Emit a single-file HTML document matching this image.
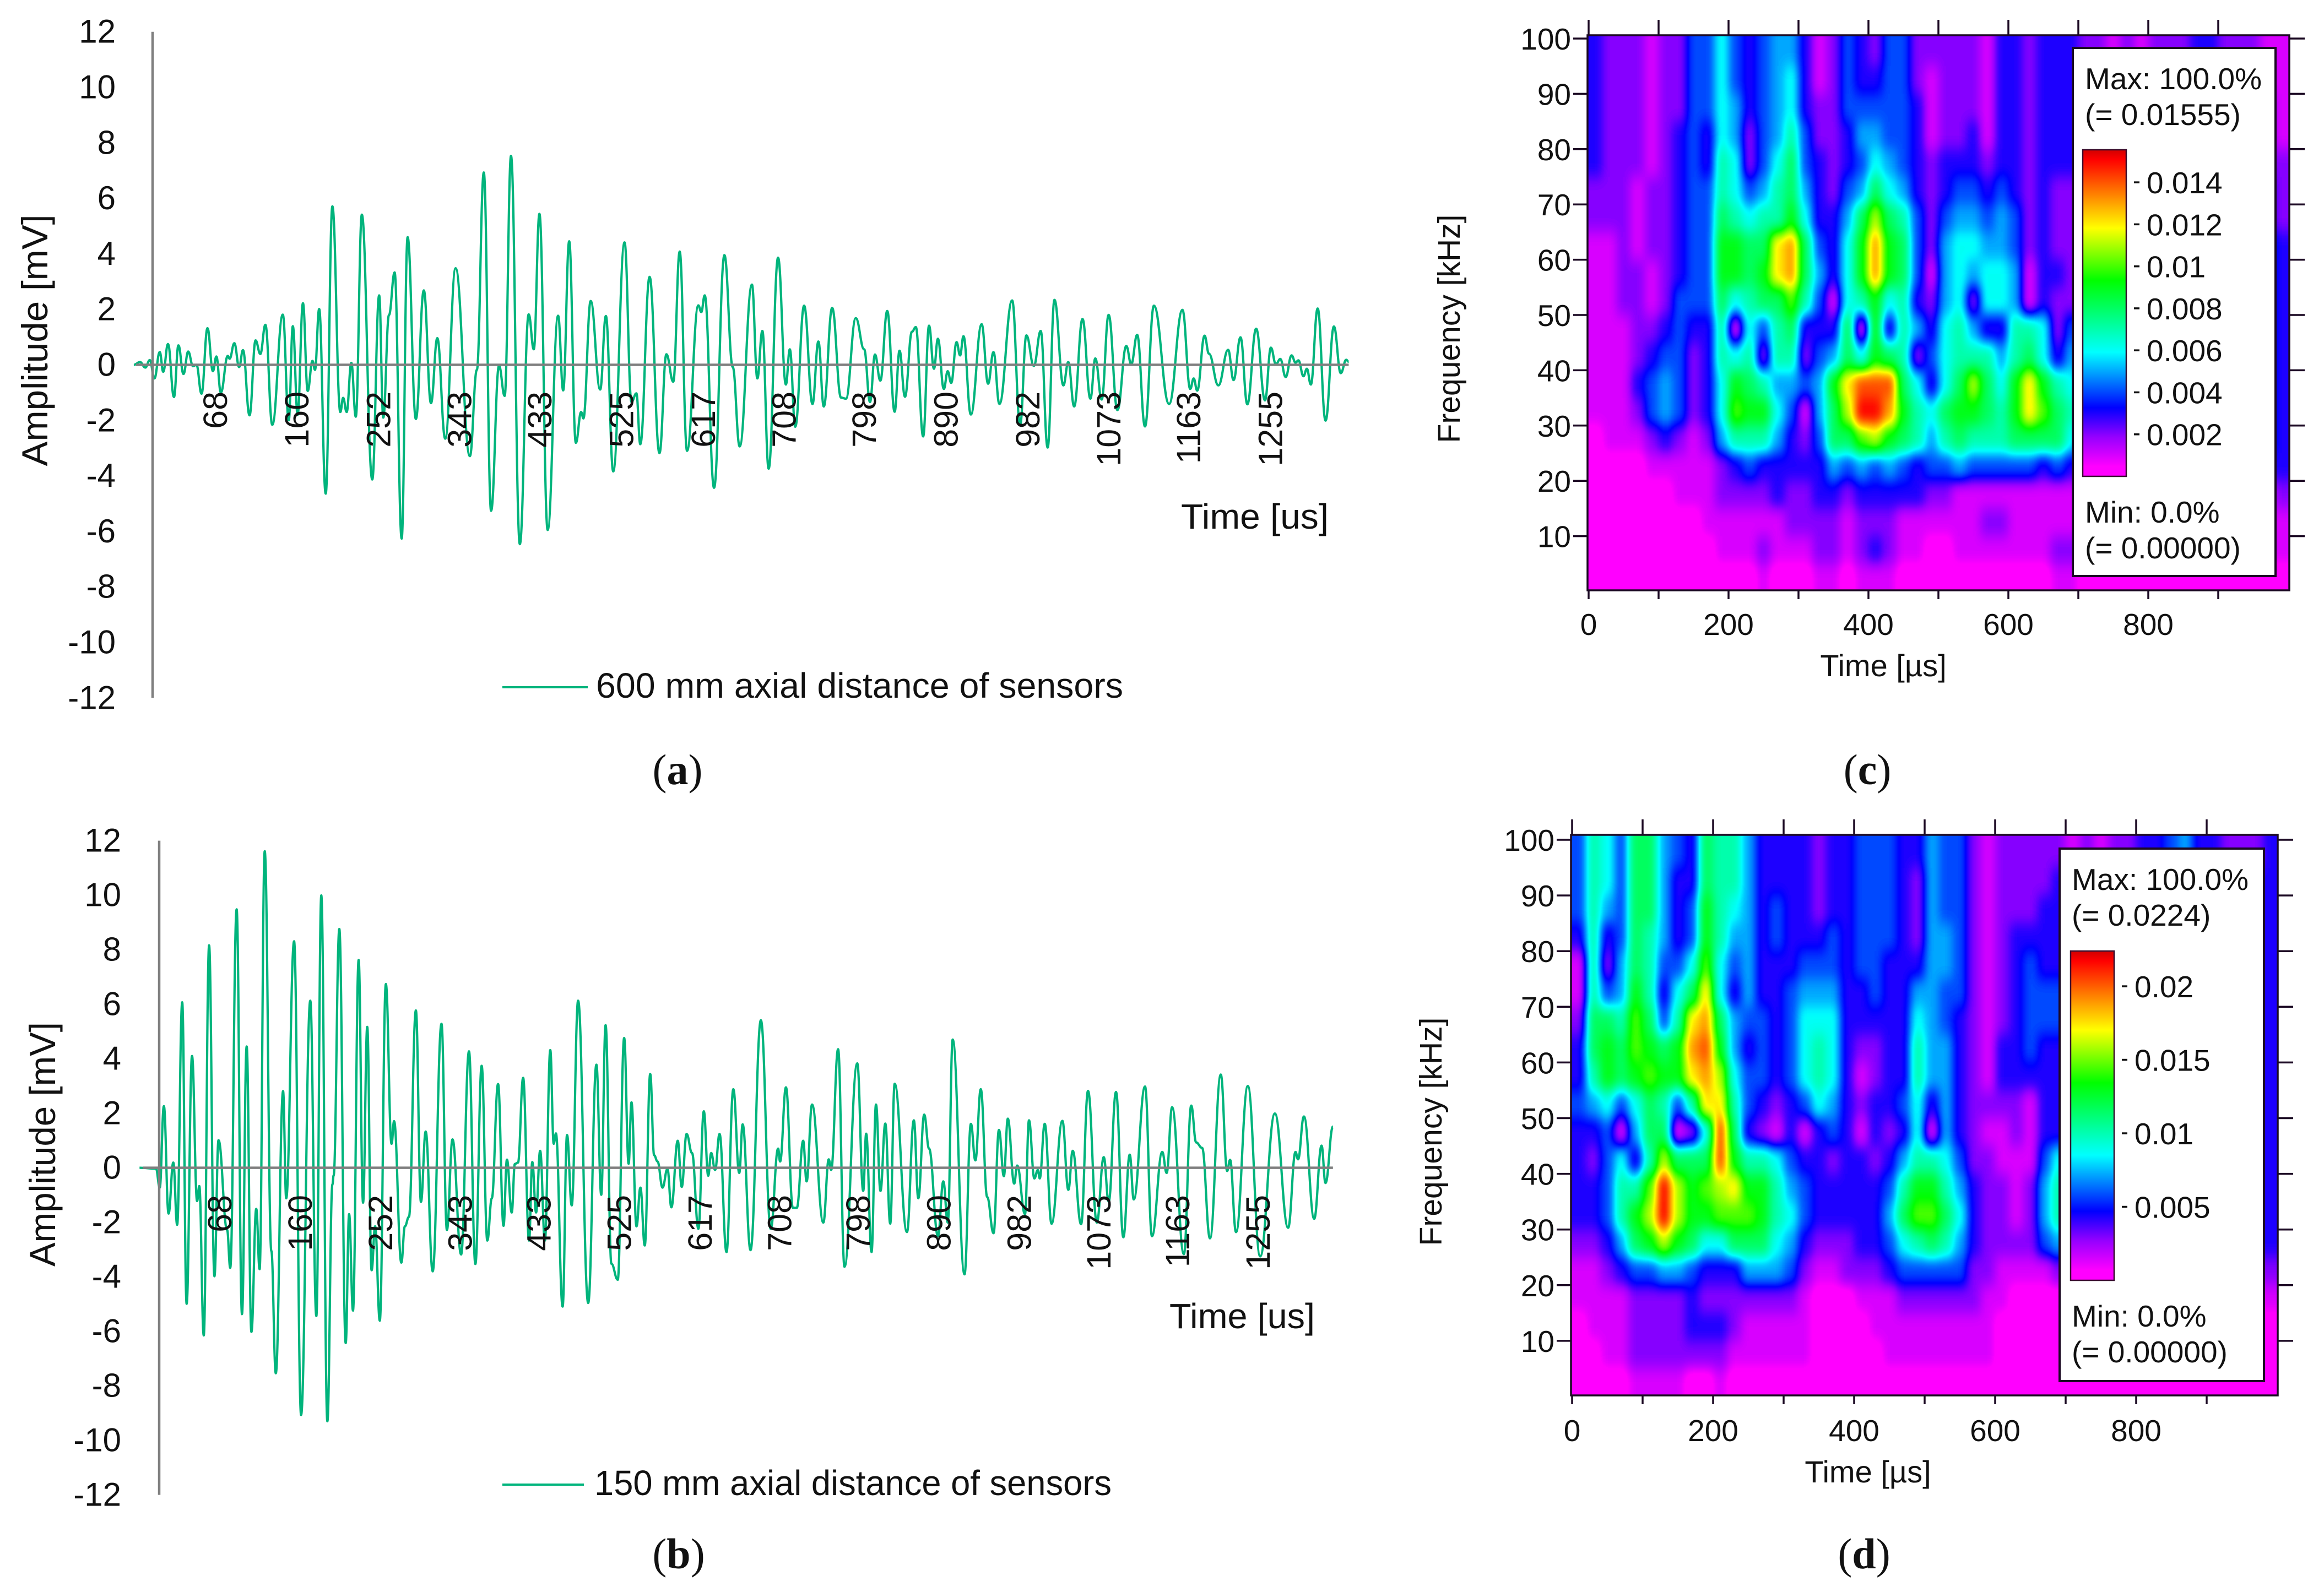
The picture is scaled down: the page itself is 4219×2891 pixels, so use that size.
<!DOCTYPE html>
<html lang="en">
<head>
<meta charset="utf-8">
<title>Acoustic emission waveforms and wavelet scalograms</title>
<style>
html,body{margin:0;padding:0;background:#fff;}
body{width:4219px;height:2891px;overflow:hidden;}
svg{display:block;}
text{font-family:"Liberation Sans",Arial,sans-serif;fill:#111;}
.serif{font-family:"Liberation Serif","Times New Roman",serif;}
</style>
</head>
<body>
<svg id="figure" xmlns="http://www.w3.org/2000/svg" width="4219" height="2891" viewBox="0 0 4219 2891">
  <defs>
    <filter id="heat-filter" color-interpolation-filters="sRGB">
      <feGaussianBlur stdDeviation="8 14"/>
      <feComponentTransfer>
        <feFuncR id="fR" type="table" tableValues="0 1"/>
        <feFuncG id="fG" type="table" tableValues="0 1"/>
        <feFuncB id="fB" type="table" tableValues="0 1"/>
      </feComponentTransfer>
    </filter>
    <clipPath id="clip-c"><rect x="2882" y="64" width="1274" height="1008"/></clipPath>
    <clipPath id="clip-d"><rect x="2852" y="1516" width="1283" height="1018"/></clipPath>
    <linearGradient id="cbar-gradient" x1="0" y1="1" x2="0" y2="0"></linearGradient>
  </defs>

  <g id="chart-a"></g>
  <g id="chart-b"></g>
  <g id="chart-c"></g>
  <g id="chart-d"></g>

  <text class="serif" x="1230" y="1424" font-size="78" text-anchor="middle">(<tspan font-weight="bold">a</tspan>)</text>
  <text class="serif" x="1232" y="2848" font-size="78" text-anchor="middle">(<tspan font-weight="bold">b</tspan>)</text>
  <text class="serif" x="3390" y="1424" font-size="78" text-anchor="middle">(<tspan font-weight="bold">c</tspan>)</text>
  <text class="serif" x="3384" y="2848" font-size="78" text-anchor="middle">(<tspan font-weight="bold">d</tspan>)</text>
</svg>

<script>
const amplitudeTicks = [-12,-10,-8,-6,-4,-2,0,2,4,6,8,10,12];
const timeTickLabels = [68,160,252,343,433,525,617,708,798,890,982,1073,1163,1255];

const waveATime = [-23,-16,-10,-5,0.2,6.2,10.1,15.5,22.2,27.2,32.9,38.2,43.6,47.5,53.2,59.9,66,69.9,74.9,82.7,84.8,90.1,95.5,99.8,107.2,114,119.3,125,132.8,144.6,151.3,155.9,161.3,167.3,172.6,178,180.8,185.5,192.9,200.4,209.3,212.5,216.4,221.7,226.7,233.5,245.2,253,257.6,264,270.4,278.3,285,294.3,303.2,311.3,318.4,327.3,339,355,362.9,370.7,378.9,387.8,394.2,401.3,411.2,421.2,426.9,433.3,442.5,454.3,460,466.7,474.2,480.2,482.7,490.9,501.6,508,516.3,529,536.8,542.3,546.7,557.2,568.3,576.1,583.8,591,599.3,612,615.3,619.2,629.7,641.3,650.7,658.5,672.3,678.4,684,691.1,701.7,710.5,714.9,721,731,740.4,747,753.1,762.5,772.5,778,789.1,798.5,805.1,810.7,816.7,824.5,832.8,838.3,844.4,852.2,856.6,864.9,871.5,877,881.5,888.1,892.5,896.4,902.5,906.4,910.2,918.5,930.7,937.9,944,950.6,965,973.9,981,989.4,997.1,1004.9,1012.6,1022.6,1028.1,1034.7,1044.1,1053,1058.5,1065.7,1073.5,1083.4,1093.4,1098.9,1105.6,1114.4,1124.4,1141.5,1156.5,1165.3,1169.2,1173.1,1181.4,1186.3,1196.9,1207.9,1214,1221.8,1229.5,1239.4,1249.4,1256,1261.6,1266.6,1272.6,1279.3,1283.7,1287,1292.6,1296.5,1300.9,1308.6,1317.5,1326.9,1334.6,1340.7,1343.5];
const waveAAmplitude = [0,0.1,-0.1,0.17,-0.49,0.46,-0.25,0.75,-1.16,0.7,-0.33,0.48,-0.05,0,-1.04,1.32,-0.23,0.3,-1,0.32,0.22,0.78,-0.08,0.53,-1.82,0.88,0.39,1.44,-2.16,1.81,-2,1.39,-1.8,2.22,-0.94,0.14,-0.18,2.01,-4.64,5.71,-1.7,-1.19,-1.7,0.07,-1.87,5.41,-4.13,2.5,-1.9,1.79,3.33,-6.26,4.6,-1.95,2.68,-1.38,0.96,-2.66,3.48,-3.29,-0.18,6.93,-5.26,-0.03,-1.12,7.53,-6.46,1.82,0.56,5.44,-5.95,1.77,-0.92,4.45,-2.81,-1.7,-1.93,2.3,-0.89,1.76,-3.84,4.41,-1.34,-1.03,-2.86,3.17,-3.18,0.38,-0.61,4.08,-3.1,2.14,1.9,2.5,-4.43,3.95,-0.08,-2.94,2.89,-0.49,1.22,-3.74,3.86,-0.71,0.56,-2.23,2.13,-1.41,0.84,-1.5,2.05,-1.18,-1.22,1.68,0.56,-1.34,0.37,-0.57,1.94,-1.69,0.51,-1.15,1.19,1.36,-2.58,1.41,-0.14,0.94,-0.87,-0.23,-0.65,0.82,0.34,1.03,-1.79,1.46,-0.68,0.46,-1.41,2.32,-2.17,1.06,-0.04,1.22,-2.98,2.34,-0.74,0.1,-1.5,1.65,-1.22,0.23,-1.25,1.8,-1.63,0.68,0.02,1.08,-2.22,2.13,-1.41,1.98,-0.87,-0.49,-0.93,1.05,0.4,-0.74,0.54,-0.55,0.99,-1.42,1.3,-1.28,0.62,0.02,0.21,-0.44,0.34,0.08,0.16,-0.41,-0.14,-0.71,2.03,-2.01,1.38,-0.3,0.18,0.11];

const waveBTime = [-23.1,-4.3,0,4.7,10.1,15.5,19.9,25.7,30.7,36.9,42.7,45.2,50.3,56.4,62.5,67.2,77,80.6,87.9,94,99.4,104.8,110.3,114.2,120,127.6,132.7,141,144.6,153.6,161.6,172.1,179,184.7,191.6,197.4,198.8,205.3,212.6,216.5,220.9,227.4,232.4,237.2,242.2,246.2,251.6,258.5,265,267.9,276.2,280.2,284.9,292.8,298.6,304,312,322.1,328.3,334.7,344.5,353.5,360.8,368,374.5,379.6,386.8,393,396.9,402.4,406,409.6,415.4,422.2,425.9,430.2,434.9,440.3,446.5,450.4,452.9,460.6,465.6,471,478.3,489.8,499.2,504.7,509.7,516.3,523.6,530.9,536,539.3,545,549.5,554.5,560.7,565.2,569.1,574.8,580.4,584.9,592.2,596.7,602.3,608.5,615.8,622,627,630.4,634.9,640,647.9,655.7,662.5,666.4,675.4,687.2,698.5,706.9,709.2,715.9,723.8,728.3,735.6,739.5,745.7,758.6,764.8,767.6,775.5,782.8,797.4,804.2,807.6,813.7,818.8,823.9,829.5,835.1,840.2,854.2,862.1,867.2,873.9,879.5,889.7,895.8,900.9,906.5,920,927.3,932.4,938.6,945.9,953.2,959.4,965,969.5,976.8,980.2,989.2,993.7,999.9,1003.8,1006,1011.7,1019.5,1031.9,1038.7,1043.7,1053.3,1061.2,1071.3,1079.2,1084.8,1093.2,1101.6,1108.9,1113.5,1126.4,1134.3,1146.1,1151.1,1157.3,1170.8,1179.2,1184.8,1191.6,1200.6,1213,1220.3,1223.6,1230.4,1243.9,1258,1274.8,1290,1298.4,1301.3,1308,1319.8,1328.2,1332.7,1341.2];
const waveBAmplitude = [0,-0.03,-0.73,2.26,-1.68,0.19,-2.09,6.07,-4.99,4.1,-1.22,-0.67,-6.15,8.16,-3.98,1.01,-2.28,-3.67,9.48,-5.37,4.45,-6.02,-1.51,-3.72,11.61,-3.05,-7.54,2.81,-1.12,8.31,-9.07,6.13,-5.44,9.99,-9.3,-0.61,-0.28,8.76,-6.43,-1.7,-5.24,7.62,-1.28,5.17,-3.76,-2.15,-5.61,6.74,0.88,1.71,-3.48,-2.15,-1.8,5.77,-1.25,1.33,-3.8,5.28,-2.28,1.04,-3.18,4.27,-3.53,3.74,-2.67,-1.12,3.07,-2.13,0.3,-1.64,0.14,0.19,3.3,-2.67,0.21,-1.64,0.62,-2.67,4.32,0.88,1.26,-5.09,1.2,-1.38,6.13,-4.96,3.78,-0.99,5.23,-3.52,-4.11,4.76,0.15,2.4,-2.15,-0.73,-2.85,3.44,0.46,0.23,-0.73,-0.04,-1.45,0.99,-0.7,1.24,0.54,-2.24,2.07,-0.29,0.54,-0.08,1.24,-3.09,2.88,-0.19,1.59,-3.02,5.41,-2.24,0.7,0.23,2.95,-1.47,-1.47,0.99,-0.5,2.32,-2.01,0.31,-0.08,4.35,-3.63,3.83,-0.85,1.25,-3.09,2.32,-0.85,1.62,-2.05,3.08,-2.36,1.74,-1.12,1.95,0.7,-2.51,-0.5,-2.01,4.7,-3.91,1.61,0.27,2.88,-1.07,-2.4,1.39,-0.31,1.8,-0.58,0.08,-1.7,1.74,-0.39,-0.08,-0.39,1.61,-2.05,1.72,-0.81,0.62,-2.07,2.82,-2.01,0.39,-1.24,2.78,-2.55,0.48,-1.16,2.98,-2.51,0.58,-0.19,2.22,-3.17,2.28,0.93,0.73,-2.59,3.42,-0.12,0.29,-2.36,3,-3.25,1.99,-2.2,0.58,0.31,1.88,-1.87,0.81,-0.56,1.51];

const heatTimes = [10,30,50,70,90,110,130,150,170,190,210,230,250,270,290,310,330,350,370,390,410,430,450,470,490,510,530,550,570,590,610,630,650,670,690,710,730,750,770,790,810,830,850,870,890,910,930,950,970,990];
const heatFreqs = [97.5,92.5,87.5,82.5,77.5,72.5,67.5,62.5,57.5,52.5,47.5,42.5,37.5,32.5,27.5,22.5,17.5,12.5,7.5,2.5];
const heatXTicks = [0,100,200,300,400,500,600,700,800,900];
const heatXLabels = [0,200,400,600,800];
const heatYTicks = [10,20,30,40,50,60,70,80,90,100];

const heatLevelsC = [
[3,2,2,2,1,2,2,4,4,6,4,3,4,5,5,3,1,2,4,3,2,4,4,2,2,2,2,2,1,3,3,2,3,3,3,2,2,1,2,1,2,2,2,3,3,2,2,2,1,1],
[3,2,2,2,1,2,2,4,4,6,4,3,4,5,6,3,1,2,4,3,3,4,4,2,1,2,2,2,1,3,3,2,3,3,3,2,2,1,2,1,2,2,2,3,2,2,2,2,1,1],
[3,2,2,2,1,2,2,4,4,6,5,3,4,5,6,3,2,2,4,4,4,4,4,3,1,2,2,2,1,3,3,2,3,3,3,2,2,2,2,2,2,2,2,2,2,2,2,2,2,1],
[3,2,2,2,1,2,3,4,3,6,5,2,4,5,7,4,2,2,3,5,5,4,4,3,1,2,2,3,1,3,3,2,3,3,3,2,2,2,2,2,2,2,2,2,2,2,2,2,2,1],
[3,2,2,2,1,2,3,4,3,7,6,2,4,6,8,4,3,2,3,4,6,5,4,3,2,3,3,3,2,3,3,2,3,3,3,2,2,2,2,2,2,2,2,2,2,2,2,2,2,2],
[2,2,2,1,2,2,3,4,4,7,6,4,5,7,8,5,3,2,4,5,8,6,5,3,2,3,4,4,3,4,3,2,3,2,2,2,2,2,2,2,2,2,2,2,2,2,2,2,3,2],
[2,2,2,1,2,2,3,4,4,8,7,6,7,7,9,6,3,3,5,8,11,8,7,4,2,4,5,5,4,5,4,2,3,2,2,2,2,2,2,2,2,2,2,2,2,2,2,2,3,2],
[1,1,2,1,2,2,3,4,4,9,9,8,8,12,13,8,4,3,6,9,13,9,8,4,2,5,6,6,5,5,4,2,3,2,2,2,2,2,2,2,2,2,2,2,2,2,2,2,4,3],
[1,1,2,2,1,2,3,4,4,9,9,8,9,12,13,8,5,3,6,9,13,9,8,4,1,5,6,5,6,6,5,1,3,3,2,2,2,2,2,2,2,2,2,2,2,2,2,2,4,3],
[1,1,2,2,1,2,4,4,4,8,6,7,8,8,10,7,4,1,6,7,9,6,7,3,2,5,6,2,6,6,5,1,3,2,2,2,2,2,2,2,2,2,2,2,2,2,2,2,4,3],
[1,1,1,2,2,3,4,3,3,7,1,6,4,7,8,3,3,3,8,1,9,3,7,5,3,6,7,5,3,3,7,7,6,2,4,2,2,2,2,2,2,2,2,2,2,2,2,2,4,3],
[1,1,1,2,3,4,4,2,3,7,6,7,2,7,7,2,4,5,8,6,9,8,7,2,4,6,7,7,7,5,7,8,6,3,5,3,2,2,2,2,2,2,2,2,2,2,2,2,4,3],
[1,1,1,3,4,5,4,2,3,6,9,8,7,5,5,4,5,9,12,14,14,14,8,6,3,6,8,11,8,6,9,12,9,7,6,4,3,2,2,2,2,2,2,2,2,2,2,2,4,3],
[1,1,1,2,4,5,4,2,3,6,10,9,9,6,4,1,5,8,11,15,15,13,9,7,6,8,9,9,8,7,9,12,10,8,7,4,3,2,2,2,2,2,2,2,2,2,2,2,4,3],
[0,1,1,1,2,3,2,1,2,5,7,7,7,5,3,2,4,8,8,10,11,9,8,7,5,7,8,7,7,7,8,8,8,8,6,4,3,2,2,2,2,2,2,2,2,2,2,2,4,3],
[0,0,0,0,1,1,1,1,1,2,3,4,3,3,3,3,3,5,4,5,4,5,4,3,4,4,5,4,4,4,4,4,3,4,3,3,2,2,2,2,2,2,2,2,2,2,2,2,3,3],
[0,0,0,0,0,0,1,1,1,2,2,2,2,3,2,2,3,3,2,3,3,3,3,3,2,2,1,1,1,1,1,1,1,1,1,1,1,1,1,1,1,1,1,1,1,1,1,1,1,2],
[0,0,0,0,0,0,0,0,1,1,1,1,1,1,2,2,2,2,1,2,2,2,1,1,1,1,1,1,2,2,1,1,1,1,1,1,1,1,1,1,1,1,1,1,1,1,1,1,1,1],
[0,0,0,0,0,0,0,0,0,1,1,1,2,1,1,1,2,2,1,2,3,2,1,1,0,0,1,1,1,1,1,1,1,2,2,1,1,1,1,1,1,1,1,1,1,1,1,1,1,1],
[0,0,0,0,0,0,0,0,0,0,0,0,1,0,0,0,1,1,0,1,1,1,0,0,0,0,0,0,0,0,0,0,0,1,1,0,0,0,0,0,0,0,0,0,0,0,0,0,0,0]
];

const heatLevelsD = [
[4,7,6,4,8,8,5,4,3,8,7,7,5,3,3,3,3,2,3,3,4,4,4,3,3,5,4,4,2,1,2,2,2,2,2,1,2,1,2,2,3,3,4,5,3,3,2,2,2,3],
[4,7,6,4,8,8,5,3,3,8,7,7,5,3,3,3,3,2,3,3,4,4,4,3,2,5,4,4,2,1,2,2,2,2,3,2,2,2,2,2,2,2,2,2,2,2,2,2,3,3],
[4,7,5,4,8,8,5,3,4,9,7,6,5,3,4,3,3,2,3,3,4,4,4,3,2,5,4,4,2,1,2,2,2,3,3,2,2,2,2,2,2,2,2,2,2,2,2,2,3,3],
[3,7,3,4,8,7,5,3,4,9,7,5,5,3,4,3,3,3,4,3,4,4,4,3,2,5,5,4,2,1,2,3,3,3,3,2,2,2,2,2,2,2,2,2,2,2,2,2,3,3],
[1,7,2,5,8,7,4,4,6,10,6,4,5,3,3,3,4,4,4,3,4,4,3,3,3,5,5,4,2,1,2,3,4,3,3,2,2,2,2,2,2,2,2,2,2,2,2,2,3,3],
[1,7,4,5,9,7,3,6,8,12,6,3,5,3,3,4,5,5,5,3,3,4,3,3,5,5,4,4,2,1,2,3,4,4,4,3,2,2,2,2,2,2,2,2,2,2,2,2,3,3],
[2,8,8,7,10,8,4,7,12,13,8,5,4,4,3,4,6,6,6,3,3,3,3,3,6,5,4,3,2,1,2,3,4,4,4,3,2,2,2,2,2,2,2,2,2,2,2,2,3,3],
[3,8,9,8,10,9,8,9,13,14,9,5,3,4,3,4,6,7,6,3,2,2,3,3,7,5,5,3,2,1,3,3,4,3,3,2,2,2,2,2,2,2,2,2,2,2,2,2,3,3],
[3,7,9,8,9,10,9,9,12,13,11,6,4,4,3,4,6,7,6,3,1,2,3,3,7,5,5,3,2,1,3,3,3,3,3,2,2,2,2,2,2,2,2,2,2,2,2,2,3,3],
[4,5,6,4,6,8,7,4,7,12,12,7,4,3,2,3,4,6,5,3,2,3,3,4,6,3,5,3,2,2,2,2,1,3,3,3,2,2,2,2,2,2,2,2,2,2,2,2,3,3],
[3,3,4,1,5,8,8,1,2,6,14,8,3,2,1,3,1,3,4,3,1,3,2,3,6,1,5,3,2,1,1,2,1,3,3,3,2,2,2,2,2,2,2,2,2,2,2,2,3,3],
[3,2,4,6,3,7,11,8,8,8,14,9,7,7,6,4,3,3,2,3,3,2,3,5,7,7,6,4,2,2,1,1,1,4,6,4,3,2,2,2,2,2,2,2,2,2,2,2,3,3],
[3,3,4,7,7,10,15,11,9,10,11,12,9,9,7,5,4,3,3,3,3,3,4,7,9,9,7,5,3,2,2,1,2,5,7,5,3,2,2,2,2,2,2,2,2,2,2,2,3,3],
[3,3,4,7,9,11,15,11,9,9,10,10,10,9,7,6,4,3,3,3,3,3,5,8,10,10,8,6,3,2,2,1,2,5,7,5,3,2,2,2,2,2,2,2,2,2,2,2,3,3],
[2,2,3,5,8,9,11,9,8,6,6,8,8,8,6,5,3,2,2,2,3,3,4,6,7,8,7,5,3,2,2,2,2,4,5,4,2,2,2,2,2,2,2,2,2,2,2,2,3,3],
[1,1,2,3,4,4,5,5,4,3,3,3,5,5,5,4,2,1,1,2,2,2,3,4,4,4,4,4,2,2,1,1,1,1,2,1,1,1,1,1,1,1,1,1,1,1,1,1,2,2],
[1,1,1,1,2,2,2,2,3,2,2,2,2,2,2,2,1,0,0,0,1,1,1,2,2,2,2,2,2,1,1,0,0,0,0,0,0,0,0,0,0,0,0,0,0,0,0,0,1,1],
[0,1,1,1,2,2,2,2,3,3,3,2,1,1,1,1,1,0,0,0,0,1,1,1,1,1,1,1,1,1,0,0,0,0,0,0,0,0,0,0,0,0,0,0,0,0,0,0,0,0],
[0,0,1,1,2,2,2,2,2,2,2,1,1,1,1,1,1,0,0,0,0,0,1,1,1,1,1,1,1,1,0,0,0,0,0,0,0,0,0,0,0,0,0,0,0,0,0,0,0,0],
[0,0,0,0,1,1,1,1,0,0,1,0,0,0,0,0,0,0,0,0,0,0,0,0,0,0,0,0,0,0,0,0,0,0,0,0,0,0,0,0,0,0,0,0,0,0,0,0,0,0]
];

const colorbarTicksC = [0.002,0.004,0.006,0.008,0.01,0.012,0.014];
const colorbarTicksD = [0.005,0.01,0.015,0.02];

const colormapFractions = [0,0.03,0.12,0.21,0.38,0.60,0.76,0.97,1];
const colormapRed =       [255,255,150,0,0,0,255,255,210];
const colormapGreen =     [0,0,0,0,255,255,255,0,0];
const colormapBlue =      [255,255,255,255,255,0,0,0,0];
const levelMaximum = 15.5;

const SVGNS = 'http://www.w3.org/2000/svg';
function mk(tag, attrs, parent, text) {
  const el = document.createElementNS(SVGNS, tag);
  for (const k in attrs) el.setAttribute(k, attrs[k]);
  if (text !== undefined) el.textContent = text;
  parent.appendChild(el);
  return el;
}
function interp(fr, arr) {
  for (let i = 1; i < colormapFractions.length; i++) {
    if (fr <= colormapFractions[i]) {
      const a = colormapFractions[i-1], b = colormapFractions[i];
      return arr[i-1] + (arr[i]-arr[i-1]) * (fr-a)/(b-a);
    }
  }
  return arr[arr.length-1];
}

/* colour table for the value-to-colour filter */
(function () {
  const r = [], g = [], b = [];
  for (let i = 0; i <= 128; i++) {
    const fr = i/128;
    r.push((interp(fr,colormapRed)/255).toFixed(3));
    g.push((interp(fr,colormapGreen)/255).toFixed(3));
    b.push((interp(fr,colormapBlue)/255).toFixed(3));
  }
  document.getElementById('fR').setAttribute('tableValues', r.join(' '));
  document.getElementById('fG').setAttribute('tableValues', g.join(' '));
  document.getElementById('fB').setAttribute('tableValues', b.join(' '));
  const grad = document.getElementById('cbar-gradient');
  colormapFractions.forEach(function (f, i) {
    mk('stop', {offset: f, 'stop-color': 'rgb(' + colormapRed[i] + ',' + colormapGreen[i] + ',' + colormapBlue[i] + ')'}, grad);
  });
})();

function drawWave(cfg) {
  const g = document.getElementById(cfg.id);
  const x = function (t) { return cfg.x0 + t*cfg.kx; };
  const y = function (v) { return cfg.y0 - v*cfg.ky; };

  let d = 'M' + x(cfg.times[0]).toFixed(1) + ' ' + y(cfg.values[0]).toFixed(1);
  for (let i = 1; i < cfg.times.length; i++) {
    const x0 = x(cfg.times[i-1]), x1 = x(cfg.times[i]);
    const y0 = y(cfg.values[i-1]), y1 = y(cfg.values[i]);
    const c = (x1-x0)*0.42;
    d += 'C' + (x0+c).toFixed(1) + ' ' + y0.toFixed(1) + ' ' + (x1-c).toFixed(1) + ' ' + y1.toFixed(1) + ' ' + x1.toFixed(1) + ' ' + y1.toFixed(1);
  }
  const line = mk('path', {d: d, fill: 'none', stroke: '#00b47c', 'stroke-width': 4.2, 'stroke-linejoin': 'round'}, g);
  
  

  const xAxis = mk('line', {x1: cfg.axisX - 30, x2: x(cfg.times[cfg.times.length-1]), y1: y(0), y2: y(0), stroke: '#808080', 'stroke-width': 4.5}, g);
  
  

  const yAxis = mk('line', {x1: cfg.axisX, x2: cfg.axisX, y1: y(12), y2: y(-12), stroke: '#808080', 'stroke-width': 4.5}, g);
  
  

  amplitudeTicks.forEach(function (v) {
    const t = mk('text', {x: cfg.tickRight, y: y(v)+20, 'font-size': 60, 'text-anchor': 'end'}, g, String(v));
    
    
  });

  timeTickLabels.forEach(function (v) {
    const cx = x(v) + 22;
    const t = mk('text', {transform: 'translate(' + cx.toFixed(1) + ',' + cfg.labelTop + ') rotate(-90)', 'font-size': 61, 'text-anchor': 'end'}, g, String(v));
    
    
  });

  const yt = mk('text', {transform: 'translate(' + cfg.yTitleX + ',' + cfg.yTitleY + ') rotate(-90)', 'font-size': 66, 'text-anchor': 'middle', textLength: cfg.yTitleLen, lengthAdjust: 'spacingAndGlyphs'}, g, 'Amplitude [mV]');
  
  

  const xt = mk('text', {x: cfg.xTitleX, y: cfg.xTitleY, 'font-size': 64, textLength: cfg.xTitleLen, lengthAdjust: 'spacingAndGlyphs'}, g, 'Time [us]');
  
  

  const key = mk('line', {x1: cfg.legX1, x2: cfg.legX2, y1: cfg.legY, y2: cfg.legY, stroke: '#00b47c', 'stroke-width': 4}, g);
  
  

  const lt = mk('text', {x: cfg.legTextX, y: cfg.legY + 19, 'font-size': 64, textLength: cfg.legTextLen, lengthAdjust: 'spacingAndGlyphs'}, g, cfg.legend);
  
  
}

function drawHeat(cfg) {
  const g = document.getElementById(cfg.id);
  const x = function (t) { return cfg.x0 + t*cfg.kx; };
  const y = function (f) { return cfg.y0 - f*cfg.ky; };
  const dark = '#1c0a24';

  const clip = mk('g', {'clip-path': 'url(#' + cfg.clip + ')'}, g);
  const cells = mk('g', {filter: 'url(#heat-filter)', 'shape-rendering': 'crispEdges'}, clip);
  
  
  const nr = cfg.levels.length;
  cfg.levels.forEach(function (row, r) {
    const nc = row.length;
    row.forEach(function (level, c) {
      let left = Math.round(x(heatTimes[c]-10));
      let right = Math.round(x(heatTimes[c]+10));
      let top = Math.round(y(heatFreqs[r]+2.5));
      let bottom = Math.round(y(heatFreqs[r]-2.5));
      if (c === 0) left -= 70;
      if (c === nc-1) right += 70;
      if (r === 0) top -= 70;
      if (r === nr-1) bottom += 70;
      const gray = Math.round(255*Math.max(0, Math.min(1, level/levelMaximum)));
      const cell = mk('rect', {x: left, y: top, width: right-left, height: bottom-top, fill: 'rgb(' + gray + ',' + gray + ',' + gray + ')'}, cells);
      
      
    });
  });

  const frame = mk('rect', {x: cfg.left, y: cfg.top, width: cfg.right-cfg.left, height: cfg.bottom-cfg.top, fill: 'none', stroke: dark, 'stroke-width': 3.5}, g);
  
  

  heatXTicks.forEach(function (t) {
    const a = mk('line', {x1: x(t), x2: x(t), y1: cfg.top-28, y2: cfg.top, stroke: dark, 'stroke-width': 3.5}, g);
    
    
    const b = mk('line', {x1: x(t), x2: x(t), y1: cfg.bottom, y2: cfg.bottom+16, stroke: dark, 'stroke-width': 3.5}, g);
    
    
  });
  heatYTicks.forEach(function (f) {
    const a = mk('line', {x1: cfg.left-26, x2: cfg.left, y1: y(f), y2: y(f), stroke: dark, 'stroke-width': 3.5}, g);
    
    
    const b = mk('line', {x1: cfg.right, x2: cfg.right+28, y1: y(f), y2: y(f), stroke: dark, 'stroke-width': 3.5}, g);
    
    
    const l = mk('text', {x: cfg.left-30, y: y(f)+20, 'font-size': 55, 'text-anchor': 'end'}, g, String(f));
    
    
  });
  heatXLabels.forEach(function (t) {
    const l = mk('text', {x: x(t), y: cfg.xLabelY, 'font-size': 55, 'text-anchor': 'middle'}, g, String(t));
    
    
  });

  const xt = mk('text', {x: cfg.xTitleX, y: cfg.xTitleY, 'font-size': 56, 'text-anchor': 'middle'}, g, 'Time [\u00b5s]');
  
  

  const yt = mk('text', {transform: 'translate(' + cfg.yTitleX + ',' + cfg.yTitleY + ') rotate(-90)', 'font-size': 57, 'text-anchor': 'middle'}, g, 'Frequency [kHz]');
  
  

  const box = mk('rect', {x: cfg.boxX, y: cfg.boxY, width: cfg.boxW, height: cfg.boxH, fill: '#fff', stroke: dark, 'stroke-width': 4}, g);
  
  

  const maxT = mk('text', {x: cfg.textX, y: cfg.maxY, 'font-size': 55}, g, 'Max: 100.0%');
  
  
  const maxV = mk('text', {x: cfg.textX, y: cfg.maxY+65, 'font-size': 55}, g, cfg.maxText);
  
  
  const minT = mk('text', {x: cfg.textX, y: cfg.minY, 'font-size': 55}, g, 'Min: 0.0%');
  
  
  const minV = mk('text', {x: cfg.textX, y: cfg.minY+65, 'font-size': 55}, g, '(= 0.00000)');
  
  

  const bar = mk('rect', {x: cfg.barX, y: cfg.barTop, width: cfg.barW, height: cfg.barBottom-cfg.barTop, fill: 'url(#cbar-gradient)', stroke: '#3a1030', 'stroke-width': 2.5}, g);
  
  

  cfg.barTicks.forEach(function (v) {
    const ty = cfg.barBottom - (v/cfg.barMax)*(cfg.barBottom-cfg.barTop);
    const dash = mk('line', {x1: cfg.barX+cfg.barW+14, x2: cfg.barX+cfg.barW+24, y1: ty, y2: ty, stroke: '#111', 'stroke-width': 3.5}, g);
    
    
    const l = mk('text', {x: cfg.barX+cfg.barW+37, y: ty+20, 'font-size': 55}, g, String(v));
    
    
  });
}

drawWave({id:'chart-a', times:waveATime, values:waveAAmplitude, x0:280, kx:1.614, y0:662.5, ky:50.4, axisX:277, tickRight:210,
  labelTop:711, yTitleX:86, yTitleY:618, yTitleLen:457, xTitleX:2144, xTitleY:960, xTitleLen:268,
  legX1:912, legX2:1067, legY:1248, legTextX:1082, legTextLen:957, legend:'600 mm axial distance of sensors'});
drawWave({id:'chart-b', times:waveBTime, values:waveBAmplitude, x0:290, kx:1.588, y0:2120.6, ky:49.5, axisX:289, tickRight:220,
  labelTop:2170, yTitleX:100, yTitleY:2078, yTitleLen:444, xTitleX:2123, xTitleY:2412, xTitleLen:264,
  legX1:912, legX2:1060, legY:2696, legTextX:1079, legTextLen:939, legend:'150 mm axial distance of sensors'});

drawHeat({id:'chart-c', clip:'clip-c', levels:heatLevelsC, x0:2884, kx:1.27, y0:1074, ky:10.04,
  left:2882, right:4156, top:64, bottom:1072, xLabelY:1153, xTitleX:3419, xTitleY:1228, yTitleX:2650, yTitleY:597,
  boxX:3763, boxY:87, boxW:368, boxH:959, textX:3785, maxY:162, minY:949, maxText:'(= 0.01555)',
  barX:3781, barW:79, barTop:272, barBottom:865, barMax:0.01555, barTicks:colorbarTicksC});
drawHeat({id:'chart-d', clip:'clip-d', levels:heatLevelsD, x0:2854, kx:1.28, y0:2536, ky:10.11,
  left:2852, right:4135, top:1516, bottom:2534, xLabelY:2617, xTitleX:3391, xTitleY:2692, yTitleX:2617, yTitleY:2055,
  boxX:3739, boxY:1541, boxW:371, boxH:967, textX:3761, maxY:1616, minY:2409, maxText:'(= 0.0224)',
  barX:3759, barW:79, barTop:1727, barBottom:2325, barMax:0.0224, barTicks:colorbarTicksD});
</script>
</body>
</html>
